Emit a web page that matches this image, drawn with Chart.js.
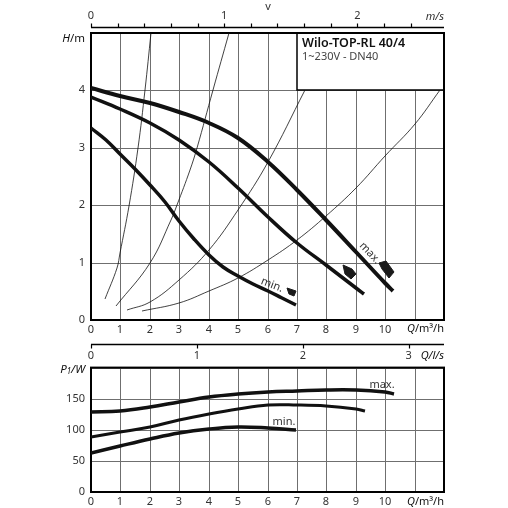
<!DOCTYPE html>
<html>
<head>
<meta charset="utf-8">
<script src="https://cdn.jsdelivr.net/npm/chart.js@4.4.1/dist/chart.umd.min.js"></script>
<style>
  html, body { margin: 0; padding: 0; background: #fff; }
  #wrap { position: relative; width: 508px; height: 508px; }
  #headChart { position: absolute; left: 0; top: 0; }
  #powerChart { position: absolute; left: 0; top: 340px; }
</style>
</head>
<body>
<div id="wrap">
  <canvas id="headChart" width="508" height="340"></canvas>
  <canvas id="powerChart" width="508" height="168"></canvas>
</div>
<script>
// pump curves H(Q), read from the data sheet
var qMax = [0, 1, 2, 3, 4, 5, 6, 7, 8, 9, 10, 10.28];
var hMax = [4.05, 3.90, 3.78, 3.63, 3.44, 3.17, 2.76, 2.27, 1.74, 1.19, 0.65, 0.51];
var qMid = [0, 1, 2, 3, 4, 5, 6, 7, 8, 9, 9.27];
var hMid = [3.88, 3.67, 3.43, 3.14, 2.75, 2.30, 1.80, 1.35, 0.95, 0.56, 0.45];
var qMin = [0, 0.5, 1, 1.5, 2, 2.5, 3, 3.5, 4, 4.5, 5, 5.5, 6, 6.5, 6.96];
var hMin = [3.35, 3.13, 2.89, 2.63, 2.35, 2.05, 1.72, 1.41, 1.14, 0.93, 0.76, 0.62, 0.50, 0.38, 0.26];

// thin system curves
var qSys1 = [0.49, 0.87, 1.0, 1.28, 1.6, 1.84, 2.05];
var hSys1 = [0.36, 0.90, 1.17, 1.98, 3.0, 4.0, 5.0];
var qSys2 = [0.85, 2.0, 2.73, 2.92, 3.37, 3.6, 4.16, 4.68];
var hSys2 = [0.25, 0.99, 1.74, 2.0, 2.62, 3.0, 4.0, 5.0];
var qSys3 = [1.24, 2, 3, 4, 5, 6, 7.27];
var hSys3 = [0.18, 0.32, 0.69, 1.22, 1.92, 2.76, 4.0];
var qSys4 = [1.72, 3, 4, 5, 6, 7, 8, 9, 10, 11, 11.86];
var hSys4 = [0.16, 0.30, 0.50, 0.74, 1.04, 1.40, 1.82, 2.30, 2.86, 3.42, 4.0];

// dark markers at the curve ends
var qMarkMin = [6.67, 6.97, 6.90, 6.74, 6.67];
var hMarkMin = [0.56, 0.51, 0.42, 0.45, 0.56];
var qMarkMid = [8.58, 8.86, 9.00, 8.84, 8.63, 8.58];
var hMarkMid = [0.95, 0.88, 0.80, 0.72, 0.81, 0.95];
var qMarkMax = [9.80, 10.02, 10.29, 10.13, 9.88, 9.80];
var hMarkMax = [0.99, 1.03, 0.83, 0.74, 0.88, 0.99];

// power curves P1(Q)
var qPowMax = [0, 1, 2, 3, 4, 5, 6, 7, 8, 9, 10, 10.3];
var pPowMax = [128, 130.7, 137, 145, 152, 157, 160.8, 163, 164, 164, 161, 158];
var qPowMid = [0, 1, 2, 3, 4, 5, 6, 7, 8, 9, 9.32];
var pPowMid = [89, 96.5, 105, 115.8, 126, 134, 139.4, 140.4, 138.3, 133, 130.7];
var qPowMin = [0, 1, 2, 3, 4, 5, 6, 6.97];
var pPowMin = [62.2, 74, 86, 95.3, 102, 104, 102.9, 99.2];

// axis ticks
var qTicksShown = [0, 1, 2, 3, 4, 5, 6, 7, 8, 9, 10];
var velMax = 2.65;          // m/s at 12 m3/h in DN40
var velTicks = [0, 0.2, 0.4, 0.6, 0.8, 1, 1.2, 1.4, 1.6, 1.8, 2, 2.2, 2.4];
var velLabels = [0, 1, 2];
var lsMax = 12 / 3.6;       // l/s at 12 m3/h
var lsTicks = [0, 1, 2, 3];

var FONT = '"Noto Sans", "DejaVu Sans", sans-serif';
var TXT = '#333';

const pts = (xs, ys) => xs.map((x, i) => ({ x: x, y: ys[i] }));

const curve = (xs, ys, w) => ({
  data: pts(xs, ys),
  showLine: true,
  borderColor: '#111',
  borderWidth: w,
  borderCapStyle: 'butt',
  pointRadius: 0,
  tension: 0.4
});

const marker = (xs, ys) => ({
  data: pts(xs, ys),
  showLine: true,
  borderColor: '#1a1a1a',
  backgroundColor: '#1a1a1a',
  borderWidth: 1,
  pointRadius: 0,
  tension: 0,
  fill: 'shape'
});

const richText = (ctx, parts, x, y, align) => {
  var w = 0;
  parts.forEach(p => { ctx.font = p[1]; w += ctx.measureText(p[0]).width; });
  var cx = align === 'right' ? x - w : (align === 'center' ? x - w / 2 : x);
  ctx.textAlign = 'left';
  ctx.textBaseline = 'middle';
  parts.forEach(p => {
    ctx.font = p[1];
    ctx.fillText(p[0], cx, y + (p[2] || 0));
    cx += ctx.measureText(p[0]).width;
  });
};

const rotatedLabel = (ctx, text, x, y, deg) => {
  ctx.save();
  ctx.translate(x, y);
  ctx.rotate(deg * Math.PI / 180);
  ctx.font = '11px ' + FONT;
  ctx.fillStyle = TXT;
  ctx.textAlign = 'center';
  ctx.textBaseline = 'middle';
  ctx.fillText(text, 0, 0);
  ctx.restore();
};

const frame = (chart) => {
  var a = chart.chartArea, ctx = chart.ctx;
  ctx.save();
  ctx.strokeStyle = '#000';
  ctx.lineWidth = 2;
  ctx.strokeRect(a.left, a.top, a.right - a.left, a.bottom - a.top);
  ctx.restore();
};

const qScale = (tickPad, h) => ({
  type: 'linear', min: 0, max: 12, alignToPixels: true,
  ticks: {
    stepSize: 1, autoSkip: false, maxRotation: 0, padding: tickPad,
    color: TXT, font: { family: FONT, size: 11 },
    callback: v => qTicksShown.includes(v) ? v : ''
  },
  grid: { color: '#6f6f6f', lineWidth: 1, drawTicks: false },
  border: { display: false },
  afterFit: s => { s.height = h; }
});

const headPlugin = {
  id: 'headPlugin',
  beforeDatasetsDraw(chart) {
    var ctx = chart.ctx, a = chart.chartArea;
    var x = chart.scales.x, y = chart.scales.y;
    // title box
    var bx = x.getPixelForValue(7), by = y.getPixelForValue(4);
    ctx.save();
    ctx.fillStyle = '#fff';
    ctx.fillRect(bx, a.top, a.right - bx, by - a.top);
    ctx.strokeStyle = '#000';
    ctx.lineWidth = 1.5;
    ctx.strokeRect(bx, a.top, a.right - bx, by - a.top);
    ctx.fillStyle = '#111';
    ctx.textAlign = 'left';
    ctx.textBaseline = 'middle';
    ctx.font = '600 12.5px ' + FONT;
    ctx.fillText('Wilo-TOP-RL 40/4', bx + 5, a.top + 10);
    ctx.fillStyle = '#444';
    ctx.font = '11px ' + FONT;
    ctx.fillText('1~230V - DN40', bx + 5, a.top + 24);
    ctx.restore();
    frame(chart);
  },
  afterDraw(chart) {
    var ctx = chart.ctx, a = chart.chartArea;
    var x = chart.scales.x, y = chart.scales.y, v = chart.scales.x2;
    ctx.save();
    // velocity axis above the chart
    var ly = 27.5;
    ctx.strokeStyle = '#000';
    ctx.lineWidth = 1.6;
    ctx.beginPath();
    ctx.moveTo(v.getPixelForValue(0), ly);
    ctx.lineTo(a.right, ly);
    ctx.stroke();
    ctx.lineWidth = 1.2;
    velTicks.forEach(t => {
      var px = Math.round(v.getPixelForValue(t)) + 0.5;
      ctx.beginPath();
      ctx.moveTo(px, ly);
      ctx.lineTo(px, ly - 4);
      ctx.stroke();
    });
    ctx.fillStyle = TXT;
    ctx.font = '11px ' + FONT;
    ctx.textAlign = 'center';
    ctx.textBaseline = 'middle';
    velLabels.forEach(t => ctx.fillText(String(t), v.getPixelForValue(t), 16));
    ctx.fillText('v', 268, 7);
    richText(ctx, [['m/s', 'italic 11px ' + FONT]], a.right, 17, 'right');
    // axis names
    ctx.fillStyle = '#111';
    richText(ctx, [['H', 'italic 11.5px ' + FONT], ['/m', '11.5px ' + FONT]], 85, 39, 'right');
    richText(ctx, [['Q', 'italic 11px ' + FONT], ['/m³/h', '11px ' + FONT]], a.right, 329, 'right');
    // curve names
    rotatedLabel(ctx, 'max.', x.getPixelForValue(9.48), y.getPixelForValue(1.17), 47);
    rotatedLabel(ctx, 'min.', x.getPixelForValue(6.15), y.getPixelForValue(0.61), 21);
    ctx.restore();
  }
};

const powerPlugin = {
  id: 'powerPlugin',
  beforeDatasetsDraw(chart) { frame(chart); },
  afterDraw(chart) {
    var ctx = chart.ctx, a = chart.chartArea;
    var x = chart.scales.x, y = chart.scales.y, f = chart.scales.x2;
    ctx.save();
    var ly = 4.5;
    ctx.strokeStyle = '#000';
    ctx.lineWidth = 1.6;
    ctx.beginPath();
    ctx.moveTo(f.getPixelForValue(0), ly);
    ctx.lineTo(a.right, ly);
    ctx.stroke();
    ctx.lineWidth = 1.2;
    lsTicks.forEach(t => {
      var px = Math.round(f.getPixelForValue(t)) + 0.5;
      ctx.beginPath();
      ctx.moveTo(px, ly);
      ctx.lineTo(px, ly + 4);
      ctx.stroke();
    });
    ctx.fillStyle = TXT;
    ctx.font = '11px ' + FONT;
    ctx.textAlign = 'center';
    ctx.textBaseline = 'middle';
    lsTicks.forEach(t => ctx.fillText(String(t), f.getPixelForValue(t), 16));
    ctx.fillStyle = '#111';
    richText(ctx, [['Q/l/s', 'italic 11px ' + FONT]], a.right, 16, 'right');
    richText(ctx, [['P', 'italic 11.5px ' + FONT], ['1', 'italic 8px ' + FONT, 2], ['/W', 'italic 11.5px ' + FONT]], 85, 30, 'right');
    richText(ctx, [['Q', 'italic 11px ' + FONT], ['/m³/h', '11px ' + FONT]], a.right, 161.5, 'right');
    rotatedLabel(ctx, 'max.', x.getPixelForValue(9.9), y.getPixelForValue(172), 0);
    rotatedLabel(ctx, 'min.', x.getPixelForValue(6.55), y.getPixelForValue(112.5), 0);
    ctx.restore();
  }
};

new Chart(document.getElementById('headChart'), {
  type: 'scatter',
  data: {
    datasets: [
      curve(qSys1, hSys1, 0.8),
      curve(qSys2, hSys2, 0.8),
      curve(qSys3, hSys3, 0.8),
      curve(qSys4, hSys4, 0.8),
      curve(qMax, hMax, 4),
      curve(qMid, hMid, 3.5),
      curve(qMin, hMin, 3.5),
      marker(qMarkMin, hMarkMin),
      marker(qMarkMid, hMarkMid),
      marker(qMarkMax, hMarkMax)
    ]
  },
  options: {
    responsive: false,
    animation: false,
    layout: { padding: { top: 33, right: 64, bottom: 0, left: 0 } },
    plugins: { legend: { display: false }, tooltip: { enabled: false } },
    scales: {
      x: qScale(3, 20),
      x2: { type: 'linear', min: 0, max: velMax, display: false },
      y: {
        type: 'linear', min: 0, max: 5, alignToPixels: true,
        ticks: {
          stepSize: 1, padding: 6, color: TXT, font: { family: FONT, size: 11 },
          callback: v => v < 5 ? v : ''
        },
        grid: { color: '#6f6f6f', lineWidth: 1, drawTicks: false },
        border: { display: false },
        afterFit: s => { s.width = 91; }
      }
    }
  },
  plugins: [headPlugin]
});

new Chart(document.getElementById('powerChart'), {
  type: 'scatter',
  data: {
    datasets: [
      curve(qPowMax, pPowMax, 3.5),
      curve(qPowMid, pPowMid, 3),
      curve(qPowMin, pPowMin, 3.5)
    ]
  },
  options: {
    responsive: false,
    animation: false,
    layout: { padding: { top: 27.6, right: 64, bottom: 0, left: 0 } },
    plugins: { legend: { display: false }, tooltip: { enabled: false } },
    scales: {
      x: qScale(3, 16),
      x2: { type: 'linear', min: 0, max: lsMax, display: false },
      y: {
        type: 'linear', min: 0, max: 200, alignToPixels: true,
        ticks: {
          stepSize: 50, padding: 6, color: TXT, font: { family: FONT, size: 11 },
          callback: v => v < 200 ? v : ''
        },
        grid: { color: '#6f6f6f', lineWidth: 1, drawTicks: false },
        border: { display: false },
        afterFit: s => { s.width = 91; }
      }
    }
  },
  plugins: [powerPlugin]
});
</script>
</body>
</html>
